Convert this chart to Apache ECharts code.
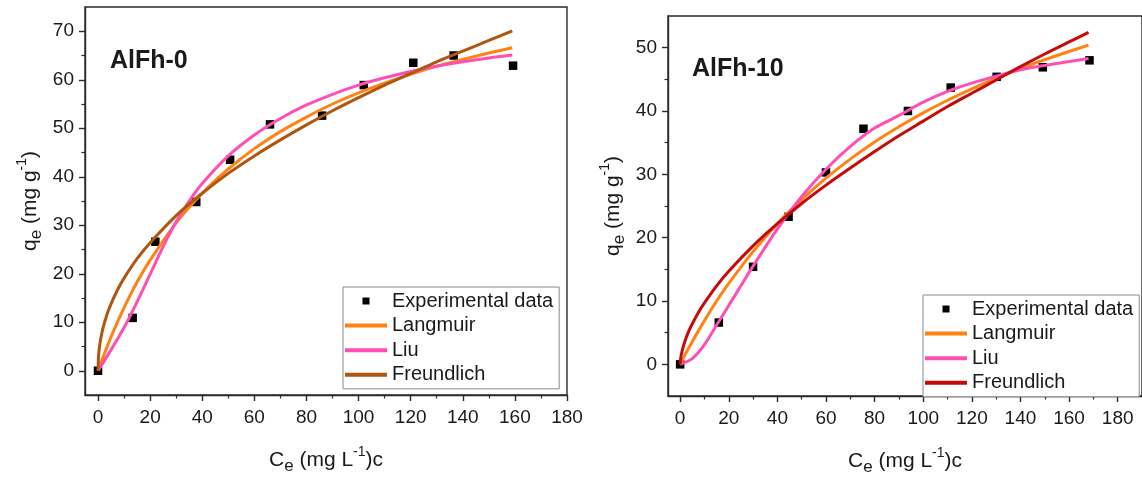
<!DOCTYPE html>
<html>
<head>
<meta charset="utf-8">
<script src="https://cdn.jsdelivr.net/npm/echarts@6/dist/echarts.min.js"></script>
<style>
html,body{margin:0;padding:0;background:#fff;}
#chart{width:1142px;height:481px;}
</style>
</head>
<body>
<div id="chart"></div>
<script>
// ---------- Data ----------
// Left panel: AlFh-0
const leftExpX = [0, 13.3, 22, 37.7, 50.7, 66, 86, 102, 121, 136.5, 159.3];
const leftExpY = [0, 10.9, 26.6, 34.8, 43.5, 50.8, 52.6, 58.9, 63.5, 65.0, 62.9];
const leftLangX = [0, 1, 2, 5, 10, 15, 20, 30, 40, 50, 60, 70, 80, 90, 100, 110, 120, 130, 140, 150, 159];
const leftLangY = [0, 1.5, 2.9, 7.0, 13.0, 18.3, 22.8, 30.5, 36.6, 41.6, 45.8, 49.3, 52.3, 55.0, 57.3, 59.3, 61.1, 62.8, 64.2, 65.5, 66.6];
const leftLiuX = [0, 5, 10, 15, 20, 25, 30, 35, 40, 50, 60, 70, 80, 90, 100, 110, 120, 130, 140, 150, 159];
const leftLiuY = [0, 4.3, 8.9, 14.2, 19.9, 25.6, 30.7, 35.0, 38.6, 44.3, 48.6, 52.0, 54.8, 57.0, 58.9, 60.4, 61.7, 62.8, 63.7, 64.5, 65.1];
const leftFreuX = [0, 0.2, 0.5, 1, 2, 3.5, 5, 7.5, 10, 15, 20, 30, 40, 50, 60, 70, 80, 90, 100, 110, 120, 130, 140, 150, 159];
const leftFreuY = [0, 3.0, 4.7, 6.5, 9.0, 11.7, 13.8, 16.7, 19.1, 23.1, 26.4, 32.0, 36.6, 40.7, 44.3, 47.6, 50.7, 53.6, 56.3, 58.9, 61.3, 63.7, 65.9, 68.1, 70.1];

// Right panel: AlFh-10
const rightExpX = [0, 15.9, 30, 44.6, 60, 75.4, 93.7, 111.3, 130.2, 149.2, 168.4];
const rightExpY = [0, 6.6, 15.4, 23.3, 30.3, 37.2, 40.0, 43.7, 45.4, 46.9, 48.0];
const rightLangX = [0, 2, 5, 10, 15, 20, 30, 40, 50, 60, 70, 80, 90, 100, 110, 120, 130, 140, 150, 160, 168];
const rightLangY = [0, 1.5, 3.6, 6.9, 10.0, 12.8, 17.8, 22.2, 26.0, 29.4, 32.4, 35.1, 37.5, 39.7, 41.7, 43.5, 45.2, 46.7, 48.1, 49.4, 50.4];
const rightLiuX = [0, 5, 10, 15, 20, 25, 30, 40, 50, 60, 70, 80, 90, 100, 110, 120, 130, 140, 150, 160, 168];
const rightLiuY = [0, 0.9, 3.1, 6.2, 9.3, 12.4, 15.5, 21.4, 26.5, 30.8, 34.4, 37.3, 39.3, 41.4, 43.1, 44.4, 45.5, 46.5, 47.2, 47.8, 48.3];
const rightFreuX = [0, 0.2, 0.5, 1, 2, 3.5, 5, 7.5, 10, 15, 20, 30, 40, 50, 60, 70, 80, 90, 100, 110, 120, 130, 140, 150, 160, 168];
const rightFreuY = [0, 0.9, 1.6, 2.4, 3.7, 5.2, 6.4, 8.2, 9.7, 12.4, 14.7, 18.7, 22.2, 25.4, 28.3, 31.0, 33.6, 36.1, 38.4, 40.7, 42.8, 44.9, 47.0, 49.0, 50.9, 52.4];

// Tick values
const xMajorTicks = [0, 20, 40, 60, 80, 100, 120, 140, 160, 180];
const xMinorTicks = [10, 30, 50, 70, 90, 110, 130, 150, 170];
const leftYMajor = [0, 10, 20, 30, 40, 50, 60, 70];
const leftYMinor = [5, 15, 25, 35, 45, 55, 65];
const rightYMajor = [0, 10, 20, 30, 40, 50];
const rightYMinor = [5, 15, 25, 35, 45];

const seriesNames = ['Experimental data', 'Langmuir', 'Liu', 'Freundlich'];
const panelTitles = ['AlFh-0', 'AlFh-10'];

// ---------- Styles ----------
const FONT = '"Liberation Sans", Arial, sans-serif';
const AX = '#2a2a2a';
const TXT = '#1a1a1a';
const C_LANG = '#FF8212';
const C_LIU = '#FF4FB5';
const C_FREU_L = '#B0560F';
const C_FREU_R = '#C50A0A';

function pairs(xs, ys) { return xs.map((x, i) => [x, ys[i]]); }

const nameRich = {
  m: { fontSize: 21, lineHeight: 30, fontFamily: FONT, color: TXT },
  sb: { fontSize: 17, lineHeight: 13, verticalAlign: 'bottom', fontFamily: FONT, color: TXT },
  sp: { fontSize: 14, lineHeight: 13, verticalAlign: 'top', fontFamily: FONT, color: TXT }
};
const xName = '{m|C}{sb|e}{m| (mg L}{sp|-1}{m|)c}';
const yName = '{m|q}{sb|e}{m| (mg g}{sp|-1}{m|)}';

function mainX(grid, min, max) {
  return {
    type: 'value', gridIndex: grid, position: 'bottom', min: min, max: max,
    name: xName, nameLocation: 'middle', nameGap: 50,
    nameTextStyle: { rich: nameRich },
    axisLine: { show: true, onZero: false, lineStyle: { color: AX, width: 1.4 } },
    axisTick: { show: true, length: 6, customValues: xMajorTicks, lineStyle: { color: AX, width: 1.4 } },
    axisLabel: { show: true, customValues: xMajorTicks, margin: 13, fontSize: 19, fontFamily: FONT, color: TXT },
    splitLine: { show: false }
  };
}
function minorX(grid, min, max) {
  return {
    type: 'value', gridIndex: grid, position: 'bottom', min: min, max: max,
    axisLine: { show: false, onZero: false },
    axisTick: { show: true, length: 3.5, customValues: xMinorTicks, lineStyle: { color: AX, width: 1.2 } },
    axisLabel: { show: false },
    splitLine: { show: false }
  };
}
function mainY(grid, min, max, ticks, gap) {
  return {
    type: 'value', gridIndex: grid, position: 'left', min: min, max: max,
    name: yName, nameLocation: 'middle', nameGap: gap, nameRotate: 90,
    nameTextStyle: { rich: nameRich },
    axisLine: { show: true, onZero: false, lineStyle: { color: AX, width: 1.4 } },
    axisTick: { show: true, length: 6, customValues: ticks, lineStyle: { color: AX, width: 1.4 } },
    axisLabel: { show: true, customValues: ticks, margin: 11, fontSize: 19, fontFamily: FONT, color: TXT },
    splitLine: { show: false }
  };
}
function minorY(grid, min, max, ticks) {
  return {
    type: 'value', gridIndex: grid, position: 'left', min: min, max: max,
    axisLine: { show: false, onZero: false },
    axisTick: { show: true, length: 3.5, customValues: ticks, lineStyle: { color: AX, width: 1.2 } },
    axisLabel: { show: false },
    splitLine: { show: false }
  };
}

const sqIcon = 'path://M0,0L10,0L10,10L0,10Z';
const lineIcon = 'path://M0,0L42,0L42,4L0,4Z';

function legendFor(left, top, suffix, freuColor) {
  return {
    orient: 'vertical', left: left, top: top,
    itemWidth: 42, itemHeight: 7, itemGap: 4.6,
    symbolKeepAspect: true,
    padding: [4, 6, 4, 2],
    borderColor: '#8a8a8a', borderWidth: 1, backgroundColor: '#fff',
    selectedMode: false,
    textStyle: { fontSize: 20, lineHeight: 20, fontFamily: FONT, color: TXT },
    formatter: n => n.trim(),
    data: [
      { name: seriesNames[0] + suffix, icon: sqIcon, itemStyle: { color: '#000' } },
      { name: seriesNames[1] + suffix, icon: lineIcon, itemStyle: { color: C_LANG } },
      { name: seriesNames[2] + suffix, icon: lineIcon, itemStyle: { color: C_LIU } },
      { name: seriesNames[3] + suffix, icon: lineIcon, itemStyle: { color: freuColor } }
    ]
  };
}

function lineSeries(name, xi, yi, data, color) {
  return {
    type: 'line', name: name, xAxisIndex: xi, yAxisIndex: yi,
    data: data, smooth: 0.3, showSymbol: false, symbol: 'none',
    color: color, lineStyle: { width: 3, color: color }, z: 3, silent: true
  };
}
function scatterSeries(name, xi, yi, data) {
  return {
    type: 'scatter', name: name, xAxisIndex: xi, yAxisIndex: yi,
    data: data, symbol: 'rect', symbolSize: 8.5, color: '#000',
    itemStyle: { color: '#000', opacity: 1 }, z: 2, silent: true
  };
}

const option = {
  animation: false,
  backgroundColor: '#fff',
  title: [
    { text: panelTitles[0], left: 110, top: 49, padding: 0,
      textStyle: { fontSize: 25, fontWeight: 'bold', fontFamily: FONT, color: TXT } },
    { text: panelTitles[1], left: 692, top: 57, padding: 0,
      textStyle: { fontSize: 25, fontWeight: 'bold', fontFamily: FONT, color: TXT } }
  ],
  grid: [
    { left: 85, top: 7, width: 482, height: 388, show: true, borderColor: AX, borderWidth: 1.4, containLabel: false },
    { left: 668, top: 16, width: 479, height: 387, show: true, borderColor: AX, borderWidth: 1.4, containLabel: false }
  ],
  xAxis: [mainX(0, -5, 180), minorX(0, -5, 180), mainX(1, -5, 190), minorX(1, -5, 190)],
  yAxis: [
    mainY(0, -5, 75, leftYMajor, 40), minorY(0, -5, 75, leftYMinor),
    mainY(1, -5, 55, rightYMajor, 40), minorY(1, -5, 55, rightYMinor)
  ],
  legend: [legendFor(343, 287, '', C_FREU_L), legendFor(923, 295, ' ', C_FREU_R)],
  series: [
    scatterSeries(seriesNames[0], 0, 0, pairs(leftExpX, leftExpY)),
    lineSeries(seriesNames[1], 0, 0, pairs(leftLangX, leftLangY), C_LANG),
    lineSeries(seriesNames[2], 0, 0, pairs(leftLiuX, leftLiuY), C_LIU),
    lineSeries(seriesNames[3], 0, 0, pairs(leftFreuX, leftFreuY), C_FREU_L),
    scatterSeries(seriesNames[0] + ' ', 2, 2, pairs(rightExpX, rightExpY)),
    lineSeries(seriesNames[1] + ' ', 2, 2, pairs(rightLangX, rightLangY), C_LANG),
    lineSeries(seriesNames[2] + ' ', 2, 2, pairs(rightLiuX, rightLiuY), C_LIU),
    lineSeries(seriesNames[3] + ' ', 2, 2, pairs(rightFreuX, rightFreuY), C_FREU_R)
  ]
};

const chart = echarts.init(document.getElementById('chart'), null, { renderer: 'canvas' });
chart.setOption(option);
</script>
</body>
</html>
